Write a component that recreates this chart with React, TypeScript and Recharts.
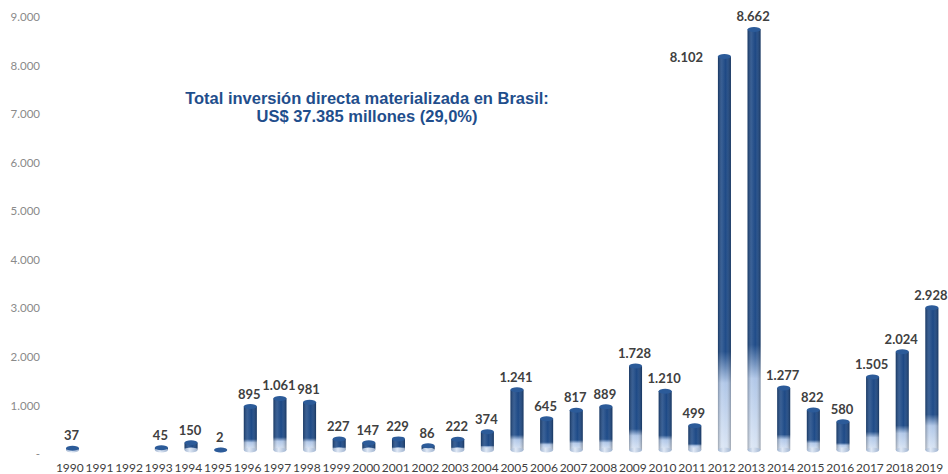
import { Bar, BarChart, LabelList, XAxis, YAxis } from "recharts";

const YEARS = [
  "1990", "1991", "1992", "1993", "1994", "1995", "1996", "1997", "1998", "1999",
  "2000", "2001", "2002", "2003", "2004", "2005", "2006", "2007", "2008", "2009",
  "2010", "2011", "2012", "2013", "2014", "2015", "2016", "2017", "2018", "2019"
];

// US$ millones; 1991 y 1992 sin dato
const INVESTMENT: (number | null)[] = [
  37, null, null, 45, 150, 2, 895, 1061, 981, 227,
  147, 229, 86, 222, 374, 1241, 645, 817, 889, 1728,
  1210, 499, 8102, 8662, 1277, 822, 580, 1505, 2024, 2928
];

const Y_TICKS = [0, 1000, 2000, 3000, 4000, 5000, 6000, 7000, 8000, 9000];

const TITLE_LINES = [
  "Total inversión directa materializada en Brasil:",
  "US$ 37.385 millones (29,0%)"
];

// the 2012 label sits to the left of its bar
const SIDE_LABEL_YEAR = "2012";

const data = YEARS.map((year, i) => ({ year, value: INVESTMENT[i] }));

const fmt = (n: number) => String(n).replace(/\B(?=(\d{3})+(?!\d))/g, ".");

const FONT = "Lato, 'Open Sans', sans-serif";

// cylinder-ish bar, nudged up/right like the 3D original
function CylinderBar(props: any) {
  const { x, y, width, height, payload } = props;
  if (!payload || payload.value == null || width == null) return null;
  const bx = x + 3;
  const by = y - 4;
  const w = width;
  const h = Math.max(height, 0);
  const rx = w / 2;
  const ry = 2.5;
  return (
    <g>
      {h > 0 && <rect x={bx} y={by} width={w} height={h} fill="url(#barFill)" />}
      {h > 0 && <rect x={bx} y={by} width={w} height={h} fill="url(#barShade)" />}
      <ellipse cx={bx + rx} cy={by + h} rx={rx} ry={ry} fill="url(#bottomFill)" />
      <ellipse cx={bx + rx} cy={by} rx={rx} ry={ry} fill="#2c5b99" />
    </g>
  );
}

function ValueLabel(props: any) {
  const { x, y, width, value } = props;
  if (value == null) return null;
  let tx = x + width / 2 + 2;
  let ty = y - 17;
  if (value === INVESTMENT[YEARS.indexOf(SIDE_LABEL_YEAR)]) {
    tx -= 37;
    ty = y - 4;
  }
  return (
    <text
      x={tx}
      y={ty}
      textAnchor="middle"
      dominantBaseline="central"
      fill="#404040"
      fontFamily={FONT}
      fontWeight="bold"
      fontSize={13}
    >
      {fmt(value)}
    </text>
  );
}

export default function App() {
  return (
    <div style={{ position: "absolute", left: 0, top: 0, width: 948, height: 474, background: "#fff" }}>
      <BarChart
        width={948}
        height={474}
        data={data}
        margin={{ top: 17, right: 4, left: 0, bottom: 0 }}
      >
        <defs>
          <linearGradient id="barFill" x1="0" y1="0" x2="0" y2="1">
            <stop offset="0" stopColor="#1d4884" />
            <stop offset="0.75" stopColor="#1f4c89" />
            <stop offset="0.83" stopColor="#b0c7e8" />
            <stop offset="1" stopColor="#dbe6f5" />
          </linearGradient>
          <linearGradient id="barShade" x1="0" y1="0" x2="1" y2="0">
            <stop offset="0" stopColor="#000" stopOpacity={0.28} />
            <stop offset="0.3" stopColor="#fff" stopOpacity={0.12} />
            <stop offset="0.6" stopColor="#fff" stopOpacity={0} />
            <stop offset="1" stopColor="#000" stopOpacity={0.3} />
          </linearGradient>
          <linearGradient id="bottomFill" x1="0" y1="0" x2="1" y2="0">
            <stop offset="0" stopColor="#9fb3cf" />
            <stop offset="0.4" stopColor="#dfe8f5" />
            <stop offset="1" stopColor="#9fb3cf" />
          </linearGradient>
        </defs>
        <XAxis
          dataKey="year"
          interval={0}
          height={20}
          axisLine={false}
          tickLine={false}
          tickSize={0}
          tickMargin={9}
          tick={{ fontSize: 12, fill: "#404040", fontFamily: FONT }}
        />
        <YAxis
          width={55}
          domain={[0, 9000]}
          ticks={Y_TICKS}
          axisLine={false}
          tickLine={false}
          tickSize={0}
          tickMargin={15}
          tickFormatter={(v: number) => (v === 0 ? "-" : fmt(v))}
          tick={{ fontSize: 11.5, fill: "#8a8a8a", fontFamily: FONT }}
        />
        <Bar dataKey="value" barSize={13} shape={<CylinderBar />} isAnimationActive={false}>
          <LabelList dataKey="value" content={<ValueLabel />} />
        </Bar>
      </BarChart>
      <div
        style={{
          position: "absolute",
          left: 142,
          top: 89,
          width: 450,
          textAlign: "center",
          fontFamily: "'Liberation Sans', Arial, sans-serif",
          fontWeight: "bold",
          fontSize: 16.5,
          lineHeight: "18px",
          color: "#1f4e8c"
        }}
      >
        {TITLE_LINES.map((line) => (
          <div key={line}>{line}</div>
        ))}
      </div>
    </div>
  );
}
